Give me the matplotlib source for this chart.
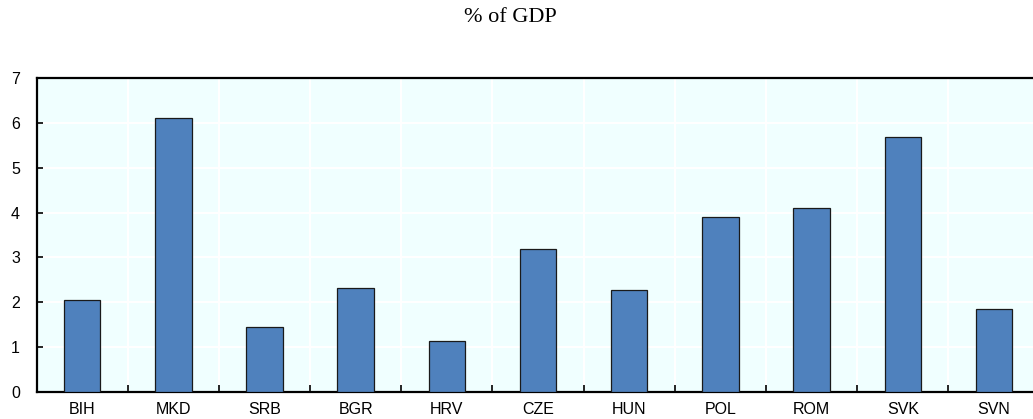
import matplotlib

matplotlib.use("Agg")
import matplotlib.pyplot as plt  # noqa: E402
import numpy as np  # noqa: E402

countries = ["BIH", "MKD", "SRB", "BGR", "HRV", "CZE", "HUN", "POL", "ROM", "SVK", "SVN"]
values = [2.05, 6.10, 1.45, 2.32, 1.14, 3.18, 2.27, 3.90, 4.10, 5.68, 1.85]
y_ticks = [0, 1, 2, 3, 4, 5, 6, 7]

W, H = 1033, 419
fig = plt.figure(figsize=(W / 100, H / 100), dpi=100)
# axes runs off the right edge of the picture, as in the reference
left, right, bottom, top = 36.5, 1039.6, 392, 78
ax = fig.add_axes([left / W, 1 - bottom / H, (right - left) / W, (bottom - top) / H])

x = np.arange(len(countries))
ax.set_facecolor("#F0FFFF")
ax.bar(x, values, width=0.4, color="#4F81BD", edgecolor="#1a1a1a", linewidth=0.9, zorder=3)

ax.set_xlim(-0.5, len(countries) - 0.5)
ax.set_ylim(0, 7)
ax.set_yticks(y_ticks)
ax.set_xticks(x)
ax.set_xticklabels(countries, fontfamily="Liberation Sans", fontsize=11.5)
ax.set_yticklabels([str(t) for t in y_ticks], fontfamily="Liberation Sans", fontsize=11.5)
ax.tick_params(axis="x", length=0, pad=7)
ax.tick_params(axis="y", direction="in", length=4, width=1.2, pad=12)

# minor ticks between categories for grid + small upward ticks
bounds = np.arange(0.5, len(countries) - 0.5, 1.0)
ax.set_xticks(bounds, minor=True)
ax.tick_params(axis="x", which="minor", direction="in", length=5, width=1.2)
ax.grid(True, axis="y", which="major", color="white", linewidth=1.5, zorder=1)
ax.grid(True, axis="x", which="minor", color="white", linewidth=1.5, zorder=1)
ax.set_axisbelow(True)

for s in ["top", "left", "bottom"]:
    ax.spines[s].set_linewidth(1.6)
    ax.spines[s].set_color("black")
ax.spines["right"].set_visible(False)

fig.text(510 / W, 1 - 18 / H, "% of GDP", ha="center", va="center",
         fontfamily="Liberation Serif", fontsize=16)

fig.savefig("out.png", dpi=100)
